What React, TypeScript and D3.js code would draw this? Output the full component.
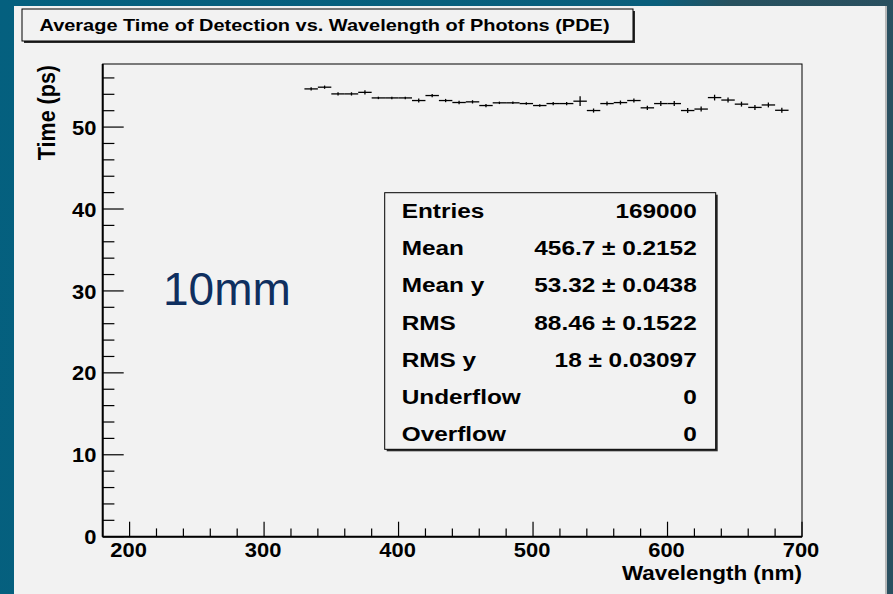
import React from "react";
import * as d3 from "d3";

// ---- data ----
const wavelengths = [335, 345, 355, 365, 375, 385, 395, 405, 415, 425, 435, 445, 455, 465, 475, 485, 495, 505, 515, 525, 535, 545, 555, 565, 575, 585, 595, 605, 615, 625, 635, 645, 655, 665, 675, 685];
const meanTimes = [54.66, 54.87, 54.05, 54.05, 54.24, 53.56, 53.56, 53.56, 53.24, 53.85, 53.24, 53.0, 53.08, 52.63, 52.96, 52.96, 52.87, 52.63, 52.87, 52.87, 53.16, 52.02, 52.87, 52.99, 53.24, 52.35, 52.87, 52.87, 52.02, 52.2, 53.6, 53.3, 52.8, 52.4, 52.7, 52.05];
const timeErrors = [0.2, 0.2, 0.2, 0.2, 0.25, 0.15, 0.15, 0.15, 0.25, 0.2, 0.2, 0.2, 0.2, 0.2, 0.15, 0.15, 0.15, 0.15, 0.2, 0.2, 0.6, 0.25, 0.25, 0.25, 0.25, 0.25, 0.3, 0.3, 0.3, 0.3, 0.35, 0.3, 0.3, 0.3, 0.3, 0.3];
const binWidth = 10;

const xTickLabels = [200, 300, 400, 500, 600, 700];
const yTickLabels = [0, 10, 20, 30, 40, 50];

const titleText = "Average Time of Detection vs. Wavelength of Photons (PDE)";
const xAxisTitle = "Wavelength (nm)";
const yAxisTitle = "Time (ps)";
const annotation = "10mm";

const statNames = ["Entries", "Mean", "Mean y", "RMS", "RMS y", "Underflow", "Overflow"];
const statValues = ["169000", "456.7 \u00b1 0.2152", "53.32 \u00b1 0.0438", "88.46 \u00b1 0.1522", "18 \u00b1 0.03097", "0", "0"];

// ---- layout ----
const W = 893;
const H = 594;
const frame = { left: 102.7, right: 802, top: 64, bottom: 536.7 };
const FONT = "'Liberation Sans', Arial, Helvetica, sans-serif";

export default function App() {
  const x = d3.scaleLinear().domain([180, 700]).range([frame.left, frame.right]);
  const y = d3.scaleLinear().domain([0, 57.7]).range([frame.bottom, frame.top]);

  const xMinor = d3.range(200, 700, 20).filter((v) => v % 100 !== 0);
  const yMinor = d3.range(2, 57, 2).filter((v) => v % 10 !== 0);

  const statBox = { x: 384.7, y: 192.7, w: 331, h: 256.6 };
  const rowY = (i: number) => 218.3 + i * 37.07;

  const stretchText = (
    key: string,
    tx: number,
    ty: number,
    sx: number,
    content: string,
    size: number,
    anchor: "start" | "middle" | "end",
    weight: string = "bold",
    fill: string = "#000"
  ) => (
    <text
      key={key}
      transform={`translate(${tx},${ty}) scale(${sx},1)`}
      textAnchor={anchor}
      fontFamily={FONT}
      fontWeight={weight}
      fontSize={size}
      fill={fill}
    >
      {content}
    </text>
  );

  return (
    <svg
      width={W}
      height={H}
      viewBox={`0 0 ${W} ${H}`}
      style={{ position: "absolute", left: 0, top: 0, display: "block" }}
    >
      <defs>
        <linearGradient id="bg" x1="0" y1="0" x2="1" y2="0.15">
          <stop offset="0" stopColor="#04607f" />
          <stop offset="0.72" stopColor="#0a5f7c" />
          <stop offset="0.8" stopColor="#27515f" />
          <stop offset="1" stopColor="#2a5060" />
        </linearGradient>
      </defs>
      <rect x={0} y={0} width={W} height={H} fill="url(#bg)" />
      {/* panel */}
      <rect x={14} y={6} width={872} height={H} fill="#f2f2f2" />
      <line x1={886} x2={886} y1={6} y2={H} stroke="#b8b8b8" strokeWidth={2} />

      {/* title box */}
      <rect x={24} y={11} width={611} height={32} fill="#2a2a2a" />
      <rect x={22} y={9} width={611} height={32} fill="#f2f2f2" stroke="#000" strokeWidth={1} />
      {stretchText("title", 39.5, 31, 1.21, titleText, 16.5, "start")}

      {/* frame */}
      <rect
        x={frame.left}
        y={frame.top}
        width={frame.right - frame.left}
        height={frame.bottom - frame.top}
        fill="none"
        stroke="#000"
        strokeWidth={1}
      />
      <line x1={frame.left} x2={frame.left} y1={frame.top} y2={frame.bottom} stroke="#000" strokeWidth={2} />
      <line x1={frame.left} x2={frame.right} y1={frame.bottom} y2={frame.bottom} stroke="#000" strokeWidth={2} />

      {/* x ticks */}
      {xTickLabels.map((v) => (
        <line key={"xt" + v} x1={x(v)} x2={x(v)} y1={frame.bottom} y2={frame.bottom - 15} stroke="#000" strokeWidth={1.2} />
      ))}
      {xMinor.map((v) => (
        <line key={"xm" + v} x1={x(v)} x2={x(v)} y1={frame.bottom} y2={frame.bottom - 8.3} stroke="#000" strokeWidth={1.2} />
      ))}
      {xTickLabels.map((v) => stretchText("xl" + v, x(v) - 1, 557.3, 1.07, String(v), 20.5, "middle"))}

      {/* y ticks */}
      {yTickLabels.map((v) => (
        <line key={"yt" + v} x1={frame.left} x2={frame.left + 21} y1={y(v)} y2={y(v)} stroke="#000" strokeWidth={1.2} />
      ))}
      {yMinor.map((v) => (
        <line key={"ym" + v} x1={frame.left} x2={frame.left + 11.7} y1={y(v)} y2={y(v)} stroke="#000" strokeWidth={1.2} />
      ))}
      {yTickLabels.map((v) => stretchText("yl" + v, 96.5, y(v) + 7.6, 1.07, String(v), 20.5, "end"))}

      {/* axis titles */}
      {stretchText("xat", 802, 580, 1.07, xAxisTitle, 21, "end")}
      <text
        transform={`translate(55,65) rotate(-90) scale(1,1.1)`}
        textAnchor="end"
        fontFamily={FONT}
        fontWeight="bold"
        fontSize={21.5}
        fill="#000"
      >
        {yAxisTitle}
      </text>

      {/* data: profile points with bin-width horizontal bars and error bars */}
      <g stroke="#000" strokeWidth={1.3}>
        {wavelengths.map((w, i) => (
          <g key={"p" + i}>
            <line x1={x(w - binWidth / 2)} x2={x(w + binWidth / 2)} y1={y(meanTimes[i])} y2={y(meanTimes[i])} />
            <line x1={x(w)} x2={x(w)} y1={y(meanTimes[i] - timeErrors[i])} y2={y(meanTimes[i] + timeErrors[i])} />
          </g>
        ))}
      </g>

      {/* stats box */}
      <rect x={statBox.x + 2} y={statBox.y + 2} width={statBox.w} height={statBox.h} fill="#2a2a2a" />
      <rect x={statBox.x} y={statBox.y} width={statBox.w} height={statBox.h} fill="#f2f2f2" stroke="#000" strokeWidth={1} />
      {statNames.map((n, i) => stretchText("sn" + i, 401.7, rowY(i), 1.25, n, 19.5, "start"))}
      {statValues.map((v, i) => stretchText("sv" + i, 696.7, rowY(i), 1.25, v, 19.5, "end"))}

      {/* annotation */}
      <text x={163} y={305} fontFamily={FONT} fontSize={46} fill="#0f2f5f">
        {annotation}
      </text>
    </svg>
  );
}
